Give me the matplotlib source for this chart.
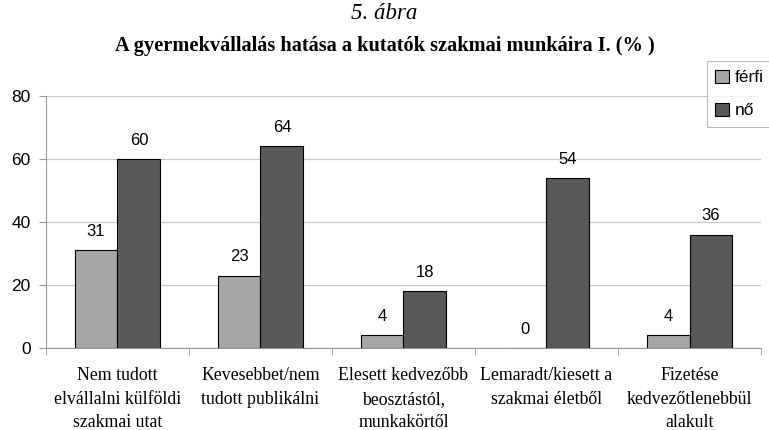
import matplotlib
matplotlib.use("Agg")
import matplotlib.pyplot as plt
import numpy as np

categories = ["Nem tudott\nelvállalni külföldi\nszakmai utat",
              "Kevesebbet/nem\ntudott publikálni",
              "Elesett kedvezőbb\nbeosztástól,\nmunkakörtől",
              "Lemaradt/kiesett a\nszakmai életből",
              "Fizetése\nkedvezőtlenebbül\nalakult"]
ferfi = [31, 23, 4, 0, 4]
no = [60, 64, 18, 54, 36]
yticks = [0, 20, 40, 60, 80]

fig = plt.figure(figsize=(7.69, 4.30), dpi=100)
ax = fig.add_axes([0.0598, 0.1907, 0.9298, 0.586])

x = np.arange(len(categories))
w = 0.3
b1 = ax.bar(x - w/2, ferfi, w, color="#A6A6A6", edgecolor="black", linewidth=0.8, label="férfi", zorder=3)
b2 = ax.bar(x + w/2, no, w, color="#595959", edgecolor="black", linewidth=0.8, label="nő", zorder=3)

for rects, vals in ((b1, ferfi), (b2, no)):
    for r, v in zip(rects, vals):
        ax.annotate(str(v), (r.get_x() + r.get_width()/2, v), xytext=(0, 8),
                    textcoords="offset points", ha="center", va="bottom",
                    fontsize=12, family="Liberation Sans")

ax.set_xlim(-0.5, len(categories) - 0.5)
ax.set_ylim(0, 80)
ax.set_yticks(yticks)
ax.set_yticklabels([str(t) for t in yticks], family="Liberation Sans", fontsize=12.5)
ax.set_xticks(np.arange(len(categories) + 1) - 0.5, minor=True)
ax.set_xticks(x)
ax.set_xticklabels(categories, family="Liberation Serif", fontsize=12.8, linespacing=1.5)
ax.tick_params(axis="x", which="major", length=0, pad=14)
ax.tick_params(axis="x", which="minor", length=5, color="#999999")
ax.tick_params(axis="y", length=5, color="#999999", pad=6)
ax.yaxis.grid(True, color="#C8C8C8", linewidth=0.9, zorder=0)
for s in ("top", "right"):
    ax.spines[s].set_visible(False)
ax.spines["left"].set_color("#999999")
ax.spines["bottom"].set_color("#999999")

leg = fig.legend(loc="upper left", bbox_to_anchor=(0.919, 0.858), frameon=True,
                 fancybox=False, edgecolor="#AAAAAA", prop={"family": "Liberation Sans", "size": 12.5},
                 handlelength=0.8, handleheight=0.8, handletextpad=0.3, borderpad=0.5,
                 labelspacing=1.0, borderaxespad=0)
leg.get_frame().set_linewidth(0.8)

fig.text(0.5, 0.968, "5. ábra", ha="center", va="center", family="Liberation Serif",
         style="italic", fontsize=16.5)
fig.text(0.5, 0.893, "A gyermekvállalás hatása a kutatók szakmai munkáira I. (% )", ha="center",
         va="center", family="Liberation Serif", weight="bold", fontsize=14.7)

fig.savefig("out.png", dpi=100)
